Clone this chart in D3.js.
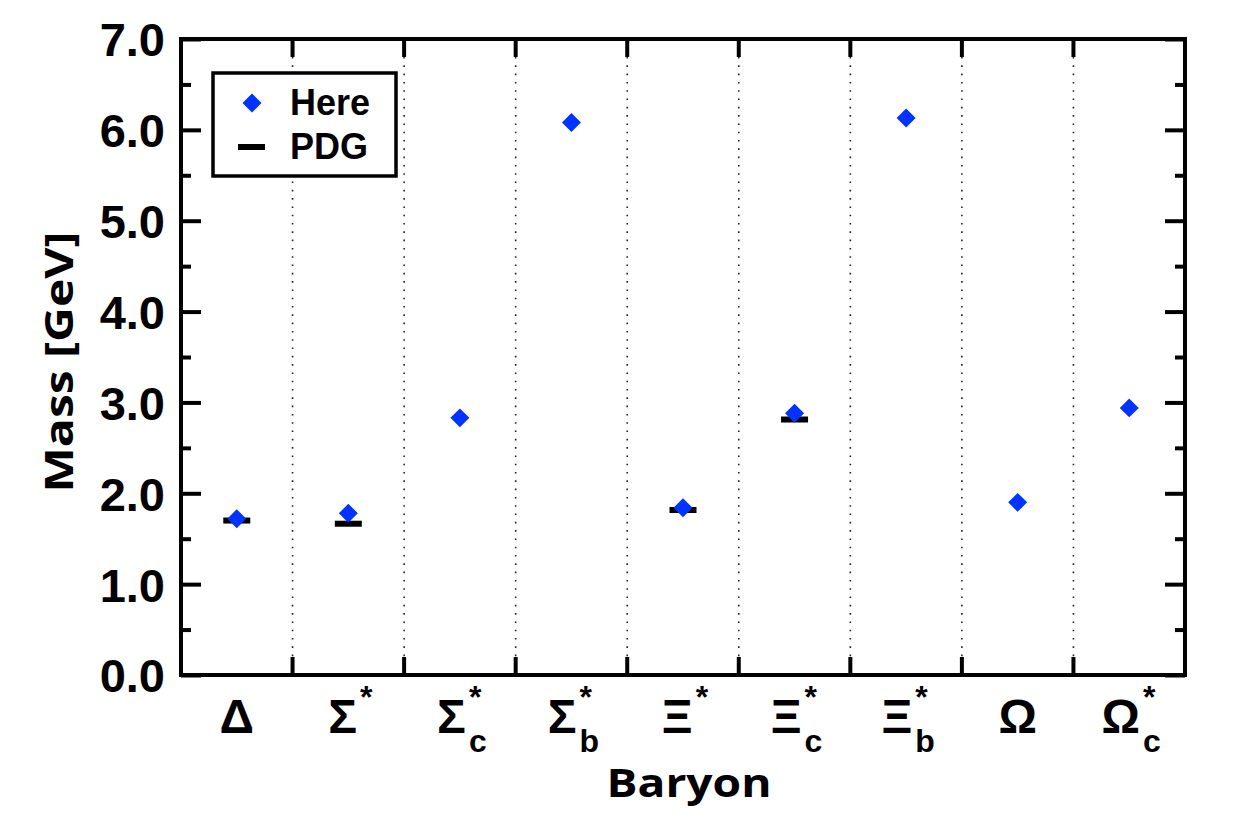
<!DOCTYPE html>
<html>
<head>
<meta charset="utf-8">
<script src="https://cdn.jsdelivr.net/npm/d3@7"></script>
<style>
  html, body { margin: 0; padding: 0; background: #fff; }
  svg { display: block; }
</style>
</head>
<body>
<svg id="chart" width="1250" height="834"></svg>
<script>
// ---------- data ----------
const baseSymbols  = ["Δ", "Σ", "Σ", "Σ", "Ξ", "Ξ", "Ξ", "Ω", "Ω"];
const subscripts   = ["", "", "c", "b", "", "c", "b", "", "c"];
const superscripts = ["", "*", "*", "*", "*", "*", "*", "", "*"];
const categories   = ["Delta", "Sigma*", "Sigma_c*", "Sigma_b*", "Xi*", "Xi_c*", "Xi_b*", "Omega", "Omega_c*"];
const hereMass = [1.72, 1.78, 2.83, 6.08, 1.84, 2.88, 6.13, 1.90, 2.94];
const pdgMass  = [1.70, 1.665, null, null, 1.816, 2.812, null, null, null];
const yMajorTicks = [0, 1, 2, 3, 4, 5, 6, 7];
const yMinorTicks = [0.5, 1.5, 2.5, 3.5, 4.5, 5.5, 6.5];
const legendLabels = ["Here", "PDG"];

// ---------- layout ----------
const L = 181, R = 1185, T = 39, B = 675;
const blue = "#0033ff";
const svg = d3.select("#chart");

const x = d3.scaleBand().domain(categories).range([L, R]).padding(0);
const y = d3.scaleLinear().domain([0, 7]).range([B, T]);

// dotted separators & x boundary ticks
const boundaries = categories.slice(1).map(c => x(c));
svg.append("g").selectAll("line").data(boundaries).join("line")
  .attr("x1", d => d).attr("x2", d => d)
  .attr("y1", T + 18).attr("y2", B - 18)
  .attr("stroke", "#222").attr("stroke-width", 1.6)
  .attr("stroke-dasharray", "1.6,6.7");

const xt = svg.append("g");
xt.selectAll("line.b").data(boundaries).join("line").attr("class", "b")
  .attr("x1", d => d).attr("x2", d => d).attr("y1", B).attr("y2", B - 18)
  .attr("stroke", "#000").attr("stroke-width", 4);
xt.selectAll("line.t").data(boundaries).join("line").attr("class", "t")
  .attr("x1", d => d).attr("x2", d => d).attr("y1", T).attr("y2", T + 18)
  .attr("stroke", "#000").attr("stroke-width", 4);

// y axes (left with labels, right mirrored)
const yAxisL = svg.append("g").attr("transform", `translate(${L},0)`)
  .call(d3.axisLeft(y).tickValues(yMajorTicks).tickFormat(d3.format(".1f"))
    .tickSize(-20).tickPadding(16));
const yAxisLm = svg.append("g").attr("transform", `translate(${L},0)`)
  .call(d3.axisLeft(y).tickValues(yMinorTicks).tickFormat("").tickSize(-10));
const yAxisR = svg.append("g").attr("transform", `translate(${R},0)`)
  .call(d3.axisRight(y).tickValues(yMajorTicks).tickFormat("").tickSize(-20));
const yAxisRm = svg.append("g").attr("transform", `translate(${R},0)`)
  .call(d3.axisRight(y).tickValues(yMinorTicks).tickFormat("").tickSize(-10));
[yAxisL, yAxisLm, yAxisR, yAxisRm].forEach(g => {
  g.select(".domain").remove();
  g.selectAll(".tick line").attr("stroke", "#000").attr("stroke-width", 4);
});
yAxisL.selectAll(".tick text")
  .attr("font-family", "'Liberation Sans', Arial, sans-serif")
  .attr("font-weight", "bold").attr("font-size", 47).attr("fill", "#000")
  .attr("dy", "0.36em");

// frame
svg.append("rect").attr("x", L).attr("y", T).attr("width", R - L).attr("height", B - T)
  .attr("fill", "none").attr("stroke", "#000").attr("stroke-width", 4);

// category labels
const catG = svg.append("g")
  .attr("font-family", "'Liberation Sans', Arial, sans-serif").attr("font-weight", "bold").attr("fill", "#000");
categories.forEach((c, i) => {
  const g = catG.append("g");
  const base = g.append("text").attr("x", 0).attr("y", 733).attr("font-size", 48).text(baseSymbols[i]);
  const bw = base.node().getComputedTextLength();
  let extra = 0;
  if (superscripts[i]) {
    const s = g.append("text").attr("x", bw + 3).attr("y", 708).attr("font-size", 32).text(superscripts[i]);
    extra = Math.max(extra, s.node().getComputedTextLength() + 3);
  }
  if (subscripts[i]) {
    const s = g.append("text").attr("x", bw + 3).attr("y", 752).attr("font-size", 32).text(subscripts[i]);
    extra = Math.max(extra, s.node().getComputedTextLength() + 3);
  }
  const total = bw + extra;
  const cx = x(c) + x.bandwidth() / 2;
  g.attr("transform", `translate(${cx - total / 2 + (extra ? 2 : 0)},0)`);
});

// PDG bars
const pdgData = categories.map((c, i) => ({ c, v: pdgMass[i] })).filter(d => d.v != null);
svg.append("g").selectAll("rect").data(pdgData).join("rect")
  .attr("x", d => x(d.c) + x.bandwidth() / 2 - 13.5)
  .attr("y", d => y(d.v) - 3)
  .attr("width", 27).attr("height", 6).attr("fill", "#000");

// Here diamonds
const diamond = d3.symbol().type(d3.symbolSquare).size(180);
svg.append("g").selectAll("path").data(categories.map((c, i) => ({ c, v: hereMass[i] }))).join("path")
  .attr("d", diamond)
  .attr("transform", d => `translate(${x(d.c) + x.bandwidth() / 2},${y(d.v)}) rotate(45)`)
  .attr("fill", blue);

// legend
const lg = svg.append("g");
lg.append("rect").attr("x", 213).attr("y", 73).attr("width", 183).attr("height", 103)
  .attr("fill", "#fff").attr("stroke", "#000").attr("stroke-width", 3.5);
lg.append("path").attr("d", diamond).attr("transform", "translate(252,103) rotate(45)").attr("fill", blue);
lg.append("rect").attr("x", 238).attr("y", 144).attr("width", 27).attr("height", 6).attr("fill", "#000");
lg.selectAll("text").data(legendLabels).join("text")
  .attr("x", 290).attr("y", (d, i) => 115 + i * 44)
  .attr("font-family", "'Liberation Sans', Arial, sans-serif").attr("font-weight", "bold")
  .attr("font-size", 36).attr("fill", "#000").text(d => d);

// axis titles
svg.append("text").attr("x", 689).attr("y", 797).attr("text-anchor", "middle")
  .attr("font-family", "'Open Sans', sans-serif").attr("font-weight", "bold").attr("font-size", 39)
  .attr("textLength", 165).attr("lengthAdjust", "spacingAndGlyphs").text("Baryon");
svg.append("text").attr("transform", "translate(73,362) rotate(-90)").attr("text-anchor", "middle")
  .attr("font-family", "'Open Sans', sans-serif").attr("font-weight", "bold").attr("font-size", 39)
  .attr("textLength", 261).attr("lengthAdjust", "spacingAndGlyphs").text("Mass [GeV]");
</script>
</body>
</html>
